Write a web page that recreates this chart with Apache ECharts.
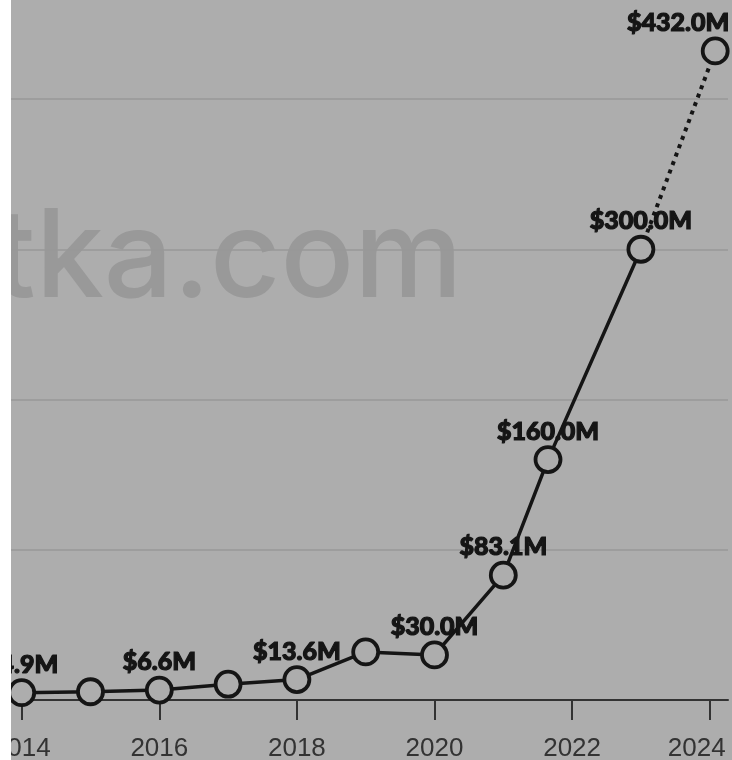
<!DOCTYPE html>
<html>
<head>
<meta charset="utf-8">
<script src="https://cdn.jsdelivr.net/npm/echarts@6/dist/echarts.min.js"></script>
<style>
  html, body { margin: 0; padding: 0; background: #ffffff; }
  #chart { position: absolute; left: 11px; top: 0; width: 721px; height: 760px; }
</style>
</head>
<body>
<div id="chart"></div>
<script>
// Yearly values (in $M); the 2021.65 point is a mid-year figure
const years   = [2014, 2015, 2016, 2017, 2018, 2019, 2020, 2021, 2021.65, 2023, 2024.08];
const values  = [4.9, 5.5, 6.6, 10.5, 13.6, 32.0, 30.0, 83.1, 160.0, 300.0, 432.0];
const labeled = [true, false, true, false, true, false, true, true, true, true, true];
const tickYears = [2014, 2016, 2018, 2020, 2022, 2024];
const watermark = 'tka.com';

const BG = '#adadad';
const INK = '#151515';

const fmt = v => '$' + v.toFixed(1) + 'M';

function point(i) {
  const item = { value: [years[i], values[i]] };
  if (!labeled[i]) item.label = { show: false };
  return item;
}

// Solid run through 2023, dotted projection to the final point
const solidData = [];
for (let i = 0; i < years.length - 1; i++) solidData.push(point(i));
const last = years.length - 1;
const dottedData = [
  { value: [years[last - 1], values[last - 1]], label: { show: false }, symbol: 'none' },
  Object.assign(point(last), { label: { show: true, offset: [-37, 0] } })
];

const labelStyle = {
  show: true,
  position: 'top',
  distance: 1,
  formatter: p => fmt(p.value[1]),
  fontFamily: 'Lato',
  fontWeight: 900,
  fontSize: 25,
  color: INK,
  textBorderColor: INK,
  textBorderWidth: 1.2
};

const lastTick = tickYears[tickYears.length - 1];

const chart = echarts.init(document.getElementById('chart'));
chart.setOption({
  backgroundColor: BG,
  animation: false,
  graphic: [{
    type: 'text',
    left: -17,
    top: 199,
    z: -10,
    silent: true,
    style: {
      text: watermark,
      fontFamily: 'Inter',
      fontWeight: 500,
      fontSize: 122,
      fill: '#999999'
    }
  }],
  grid: { left: 0, right: 4, top: 99, bottom: 60, containLabel: false, outerBoundsMode: 'none' },
  xAxis: {
    type: 'value',
    min: 2013.8445,
    max: 2024.266,
    axisLine: { show: true, lineStyle: { color: '#333333', width: 2 } },
    axisTick: {
      show: true,
      customValues: tickYears,
      length: 20,
      lineStyle: { color: '#333333', width: 2 }
    },
    axisLabel: {
      show: true,
      customValues: tickYears,
      // keep the final year label inside the right edge
      formatter: v => (v === lastTick ? '{edge|' + v + '}' : String(v)),
      fontFamily: 'Liberation Sans',
      fontSize: 26,
      color: '#333333',
      margin: 36,
      rich: {
        edge: {
          fontFamily: 'Liberation Sans',
          fontSize: 26,
          color: '#333333',
          padding: [0, 26, 0, 0]
        }
      }
    },
    splitLine: { show: false }
  },
  yAxis: {
    type: 'value',
    min: 0,
    max: 400,
    interval: 100,
    axisLine: { show: false },
    axisTick: { show: false },
    axisLabel: { show: false },
    splitLine: { show: true, lineStyle: { color: '#999999', width: 1.5 } }
  },
  series: [
    {
      type: 'line',
      z: 3,
      clip: false,
      data: solidData,
      lineStyle: { color: INK, width: 3.5 },
      symbol: 'circle',
      symbolSize: 25,
      itemStyle: { color: BG, borderColor: INK, borderWidth: 3.8 },
      label: labelStyle
    },
    {
      type: 'line',
      z: 2,
      clip: false,
      data: dottedData,
      lineStyle: { color: INK, width: 4, type: [4, 5], cap: 'butt' },
      symbol: 'circle',
      symbolSize: 25,
      itemStyle: { color: BG, borderColor: INK, borderWidth: 3.8 },
      label: labelStyle
    }
  ]
});
</script>
</body>
</html>
